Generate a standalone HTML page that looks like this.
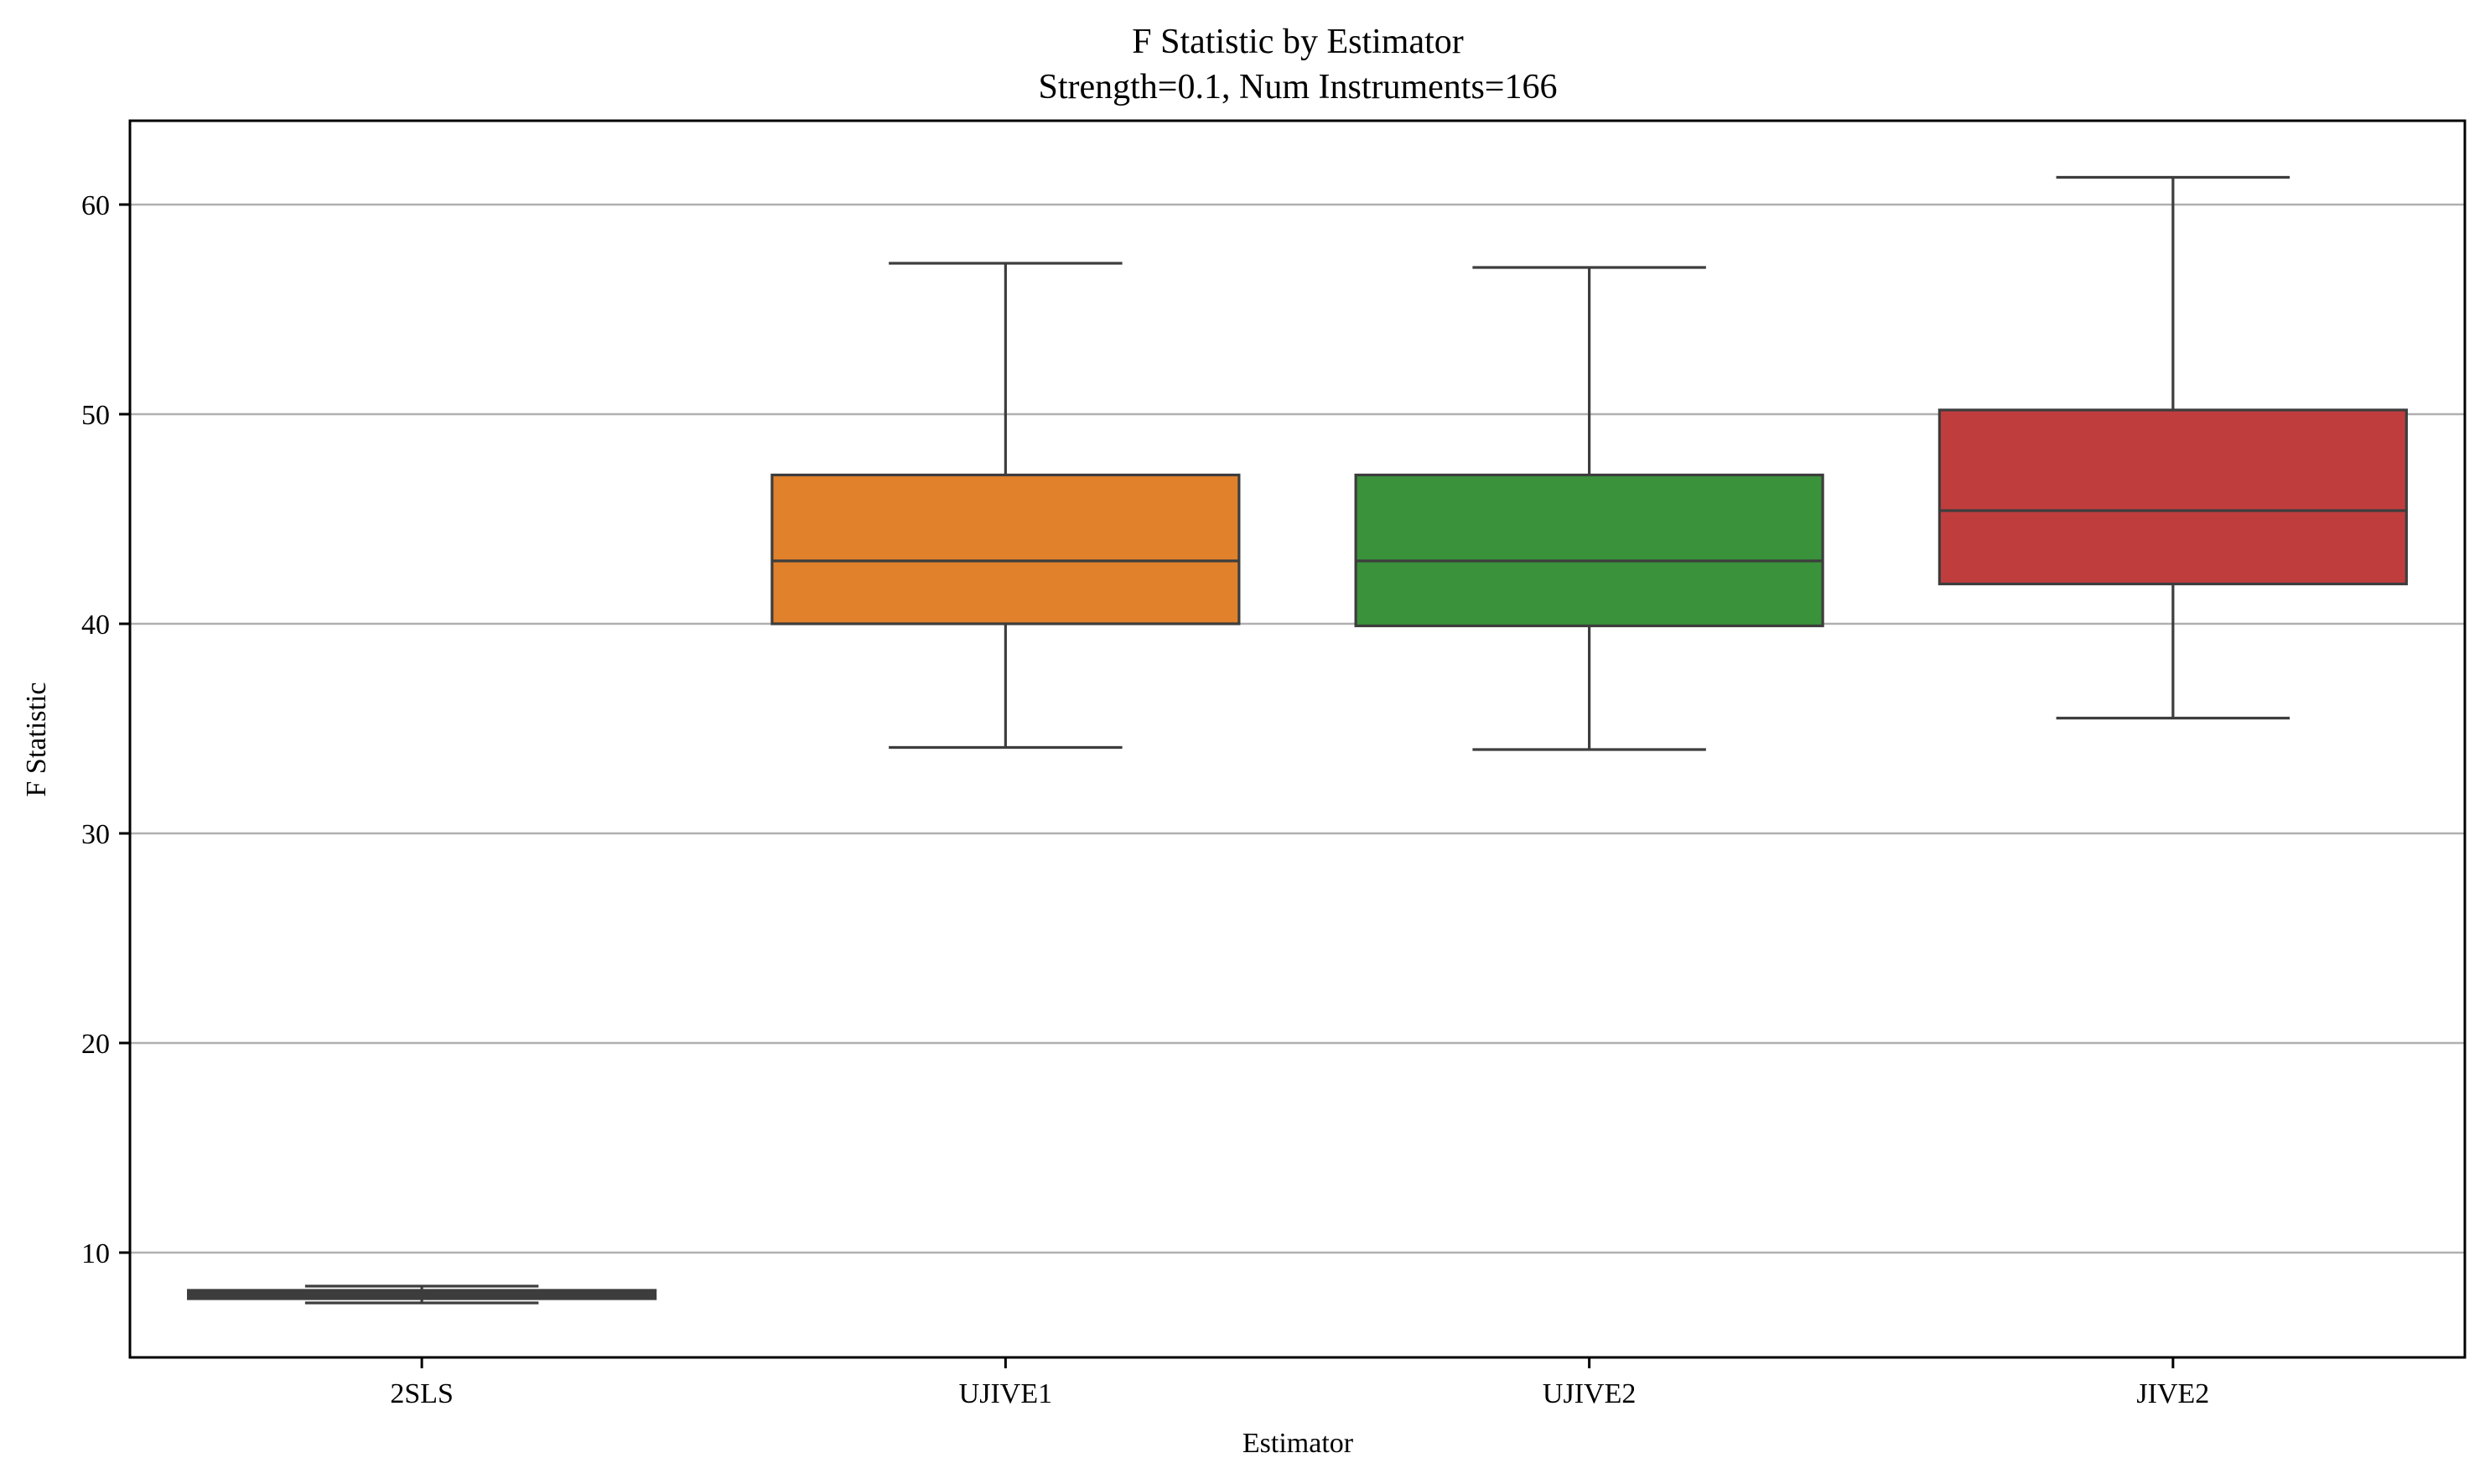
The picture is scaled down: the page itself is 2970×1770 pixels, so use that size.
<!DOCTYPE html>
<html><head><meta charset="utf-8"><style>
html,body{margin:0;padding:0;background:#fff;}
svg{display:block;font-family:"Liberation Serif",serif;}
</style></head><body>
<svg id="chart" width="2970" height="1770" xmlns="http://www.w3.org/2000/svg">
<g id="grid"></g>
<g id="boxes"></g>
<rect x="155" y="144" width="2785" height="1475" fill="none" stroke="#000" stroke-width="3"/>
<g id="yticks"></g>
<g id="xticks"></g>
<text x="1548" y="63" font-size="42" text-anchor="middle">F Statistic by Estimator</text>
<text x="1548" y="117" font-size="42" text-anchor="middle">Strength=0.1, Num Instruments=166</text>
<text x="1548" y="1732" font-size="34" text-anchor="middle">Estimator</text>
<text transform="translate(54,882) rotate(-90)" font-size="34" text-anchor="middle">F Statistic</text>
</svg>
<script>
const categories = ["2SLS","UJIVE1","UJIVE2","JIVE2"];
const whiskerLow = [7.6, 34.1, 34.0, 35.5];
const q1 = [7.8, 40.0, 39.9, 41.9];
const medians = [8.0, 43.0, 43.0, 45.4];
const q3 = [8.2, 47.1, 47.1, 50.2];
const whiskerHigh = [8.4, 57.2, 57.0, 61.3];
const colors = ["#3d3d3d","#e1812c","#3a923a","#c03d3e"];
const yTicks = [10,20,30,40,50,60];

const NS="http://www.w3.org/2000/svg";
const L=155,R=2940,T=144,B=1619,yMin=5,yMax=64;
const y=v=>B-(v-yMin)/(yMax-yMin)*(B-T);
const band=(R-L)/categories.length;
const x=i=>L+band*(i+0.5);
function mk(tag,attrs,parent){const e=document.createElementNS(NS,tag);for(const k in attrs)e.setAttribute(k,attrs[k]);parent.appendChild(e);return e;}
const grid=document.getElementById('grid'),yt=document.getElementById('yticks'),xt=document.getElementById('xticks'),bx=document.getElementById('boxes');
yTicks.forEach(t=>{
  const g=mk('line',{x1:L,x2:R,y1:y(t),y2:y(t),stroke:'#b0b0b0','stroke-width':2.5},grid);
  
  
  const tk=mk('line',{x1:L-13,x2:L,y1:y(t),y2:y(t),stroke:'#000','stroke-width':3},yt);
  
  
  const lb=mk('text',{x:L-24,y:y(t)+12,'font-size':34,'text-anchor':'end'},yt);
  lb.textContent=t;
  
  
});
categories.forEach((c,i)=>{
  const cx=x(i),bw=band*0.8,cw=bw/2,st='#3d3d3d',sw=3.2;
  const tk=mk('line',{x1:cx,x2:cx,y1:B,y2:B+13,stroke:'#000','stroke-width':3},xt);
  
  
  const lb=mk('text',{x:cx,y:B+54,'font-size':34,'text-anchor':'middle'},xt);
  lb.textContent=c;
  
  
  const g=mk('g',{},bx);
  
  
  mk('line',{x1:cx,x2:cx,y1:y(whiskerLow[i]),y2:y(q1[i]),stroke:st,'stroke-width':sw},g);
  mk('line',{x1:cx,x2:cx,y1:y(q3[i]),y2:y(whiskerHigh[i]),stroke:st,'stroke-width':sw},g);
  mk('line',{x1:cx-cw/2,x2:cx+cw/2,y1:y(whiskerLow[i]),y2:y(whiskerLow[i]),stroke:st,'stroke-width':sw},g);
  mk('line',{x1:cx-cw/2,x2:cx+cw/2,y1:y(whiskerHigh[i]),y2:y(whiskerHigh[i]),stroke:st,'stroke-width':sw},g);
  mk('rect',{x:cx-bw/2,y:y(q3[i]),width:bw,height:Math.max(1,y(q1[i])-y(q3[i])),fill:colors[i],stroke:st,'stroke-width':sw},g);
  mk('line',{x1:cx-bw/2,x2:cx+bw/2,y1:y(medians[i]),y2:y(medians[i]),stroke:st,'stroke-width':sw},g);
});
</script>
</body></html>
